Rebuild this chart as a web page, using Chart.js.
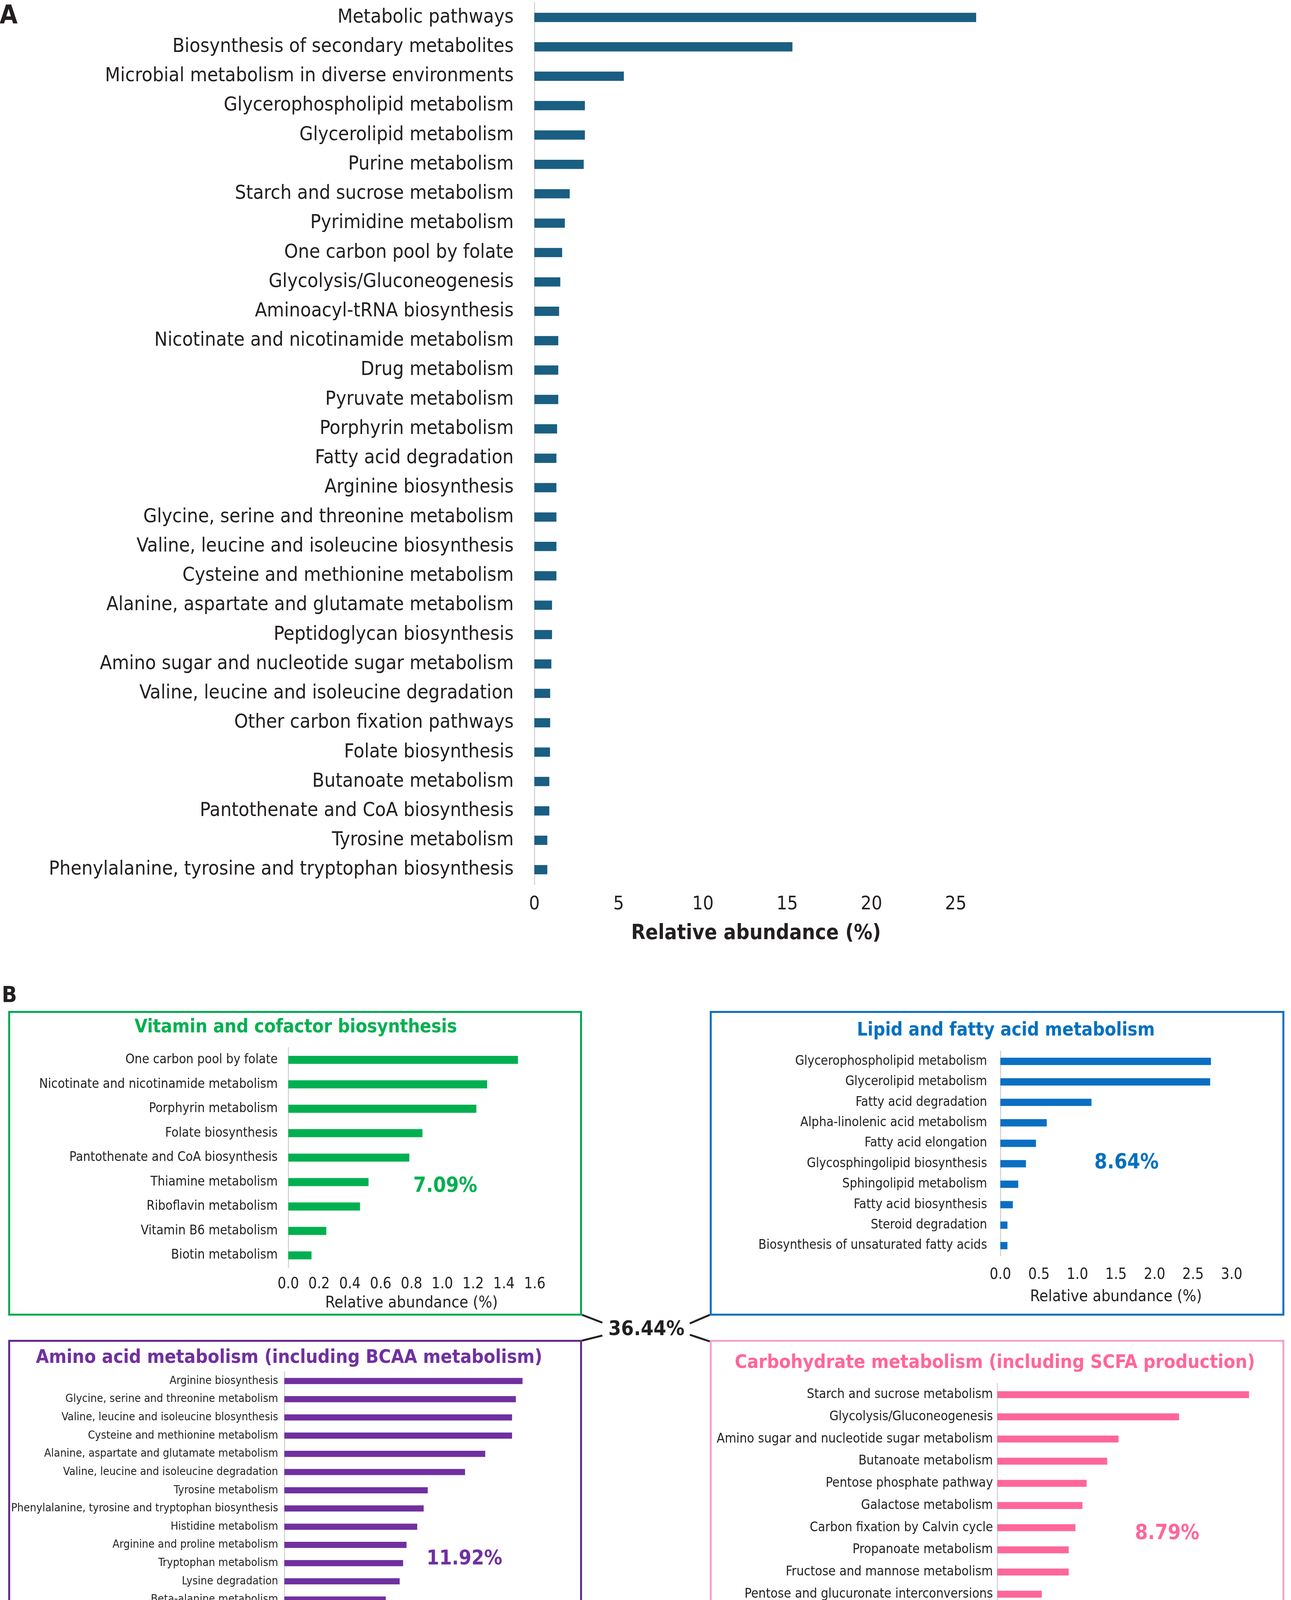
<!DOCTYPE html>
<html>
<head>
<meta charset="utf-8">
<title>KEGG pathway relative abundance</title>
<script src="https://cdn.jsdelivr.net/npm/chart.js@4.4.0/dist/chart.umd.min.js"></script>
<style>
  html, body { margin: 0; padding: 0; background: #fff; overflow: hidden; }
  #page { position: relative; width: 3305px; height: 4409px; background: #fff; }
  canvas { position: absolute; }
  .box { position: absolute; box-sizing: border-box; border-style: solid; border-width: 5px; }
  .txt { position: absolute; white-space: nowrap; line-height: 1; transform: translate(-50%, -50%); }
  svg { position: absolute; left: 0; top: 0; }
</style>
</head>
<body>
<div id="page">
  <div class="box" id="boxVit"></div>
  <div class="box" id="boxLip"></div>
  <div class="box" id="boxAmi"></div>
  <div class="box" id="boxCar"></div>
  <svg width="3305" height="4409">
    <g stroke="#231f20" stroke-width="5">
      <line x1="1490" y1="3366" x2="1542" y2="3386" />
      <line x1="1817" y1="3366" x2="1766" y2="3388" />
      <line x1="1490" y1="3432" x2="1542" y2="3419" />
      <line x1="1817" y1="3434" x2="1766" y2="3417" />
    </g>
  </svg>
  <canvas id="chartA"></canvas>
  <canvas id="chartVit"></canvas>
  <canvas id="chartLip"></canvas>
  <canvas id="chartAmi"></canvas>
  <canvas id="chartCar"></canvas>
</div>
<script>
// ---- datos ----
const pathwaysA = [
  "Metabolic pathways", "Biosynthesis of secondary metabolites",
  "Microbial metabolism in diverse environments", "Glycerophospholipid metabolism",
  "Glycerolipid metabolism", "Purine metabolism", "Starch and sucrose metabolism",
  "Pyrimidine metabolism", "One carbon pool by folate", "Glycolysis/Gluconeogenesis",
  "Aminoacyl-tRNA biosynthesis", "Nicotinate and nicotinamide metabolism",
  "Drug metabolism", "Pyruvate metabolism", "Porphyrin metabolism",
  "Fatty acid degradation", "Arginine biosynthesis",
  "Glycine, serine and threonine metabolism", "Valine, leucine and isoleucine biosynthesis",
  "Cysteine and methionine metabolism", "Alanine, aspartate and glutamate metabolism",
  "Peptidoglycan biosynthesis", "Amino sugar and nucleotide sugar metabolism",
  "Valine, leucine and isoleucine degradation", "Other carbon fixation pathways",
  "Folate biosynthesis", "Butanoate metabolism", "Pantothenate and CoA biosynthesis",
  "Tyrosine metabolism", "Phenylalanine, tyrosine and tryptophan biosynthesis"
];
const abundanceA = [
  26.2, 15.3, 5.3, 2.99, 2.99, 2.92, 2.09, 1.8, 1.64, 1.53,
  1.46, 1.41, 1.41, 1.41, 1.34, 1.3, 1.3, 1.3, 1.3, 1.3,
  1.04, 1.04, 1.0, 0.93, 0.93, 0.92, 0.88, 0.88, 0.76, 0.76
];
const ticksA = [0, 5, 10, 15, 20, 25];

const vitaminLabels = [
  "One carbon pool by folate", "Nicotinate and nicotinamide metabolism",
  "Porphyrin metabolism", "Folate biosynthesis", "Pantothenate and CoA biosynthesis",
  "Thiamine metabolism", "Riboflavin metabolism", "Vitamin B6 metabolism", "Biotin metabolism"
];
const vitaminValues = [1.49, 1.29, 1.22, 0.87, 0.785, 0.52, 0.465, 0.246, 0.15];
const vitaminTicks = [0, 0.2, 0.4, 0.6, 0.8, 1.0, 1.2, 1.4, 1.6];

const lipidLabels = [
  "Glycerophospholipid metabolism", "Glycerolipid metabolism", "Fatty acid degradation",
  "Alpha-linolenic acid metabolism", "Fatty acid elongation", "Glycosphingolipid biosynthesis",
  "Sphingolipid metabolism", "Fatty acid biosynthesis", "Steroid degradation",
  "Biosynthesis of unsaturated fatty acids"
];
const lipidValues = [2.73, 2.72, 1.18, 0.6, 0.46, 0.33, 0.23, 0.16, 0.09, 0.09];
const lipidTicks = [0, 0.5, 1.0, 1.5, 2.0, 2.5, 3.0];

const aminoLabels = [
  "Arginine biosynthesis", "Glycine, serine and threonine metabolism",
  "Valine, leucine and isoleucine blosynthesis", "Cysteine and methionine metabolism",
  "Alanine, aspartate and glutamate metabolism", "Valine, leucine and isoleucine degradation",
  "Tyrosine metabolism", "Phenylalanine, tyrosine and tryptophan biosynthesis",
  "Histidine metabolism", "Arginine and proline metabolism", "Tryptophan metabolism",
  "Lysine degradation", "Beta-alanine metabolism", "Lysine biosynthesis",
  "D-amino acid metabolism", "Phenylalanine metabolism"
];
const aminoValues = [1.18, 1.147, 1.128, 1.128, 0.995, 0.895, 0.71, 0.69, 0.658, 0.605,
  0.588, 0.571, 0.502, 0.47, 0.402, 0.25];
const aminoTicks = [0, 0.2, 0.4, 0.6, 0.8, 1.0, 1.2, 1.4];

const carbLabels = [
  "Starch and sucrose metabolism", "Glycolysis/Gluconeogenesis",
  "Amino sugar and nucleotide sugar metabolism", "Butanoate metabolism",
  "Pentose phosphate pathway", "Galactose metabolism", "Carbon fixation by Calvin cycle",
  "Propanoate metabolism", "Fructose and mannose metabolism",
  "Pentose and glucuronate interconversions", "Glyoxylate and dicarboxylate metabolism",
  "Citrate cycle (TCA cycle)"
];
const carbValues = [1.87, 1.35, 0.9, 0.816, 0.663, 0.632, 0.58, 0.53, 0.53, 0.33, 0.265, 0.215];
const carbTicks = [0, 0.2, 0.4, 0.6, 0.8, 1.0, 1.2, 1.4, 1.6, 1.8, 2.0];

// ---- estilo ----
const FONT = "'DejaVu Sans Condensed', 'DejaVu Sans', sans-serif";
const TEXT = "#231f20";
const AXIS_TITLE = "Relative abundance (%)";

// tamaño de letra para que un texto ocupe un ancho dado
const mctx = document.createElement("canvas").getContext("2d");
function fitSize(text, width, weight) {
  mctx.font = (weight || "normal") + " 100px " + FONT;
  return Math.round(1000 * width / mctx.measureText(text).width) / 10;
}

function addText(text, cx, cy, width, color, weight) {
  const d = document.createElement("div");
  d.className = "txt";
  d.textContent = text;
  d.style.left = cx + "px";
  d.style.top = cy + "px";
  d.style.color = color;
  d.style.fontFamily = FONT;
  d.style.fontWeight = weight || "normal";
  d.style.fontSize = fitSize(text, width, weight) + "px";
  document.getElementById("page").appendChild(d);
}

function setBox(id, left, top, right, bottom, color) {
  const b = document.getElementById(id);
  b.style.left = left + "px";
  b.style.top = top + "px";
  b.style.width = (right - left) + "px";
  b.style.height = (bottom - top) + "px";
  b.style.borderColor = color;
}

// grafica de barras horizontales con el eje en posiciones fijas
function drawBars(id, g, labels, values, ticks, st) {
  const cv = document.getElementById(id);
  cv.width = g.width;
  cv.height = g.height;
  cv.style.left = g.left + "px";
  cv.style.top = g.top + "px";
  const yAxisW = g.axisX - g.left;
  const xAxisH = g.top + g.height - g.areaBottom;
  const labelSize = fitSize(st.refLabel, st.refLabelW);
  const tickSize = fitSize(st.refTick, st.refTickW);
  const titleSize = fitSize(AXIS_TITLE, st.titleW, st.titleWeight);

  return new Chart(cv.getContext("2d"), {
    type: "bar",
    data: {
      labels: labels,
      datasets: [{ data: values, backgroundColor: st.color, barThickness: st.bar, borderWidth: 0 }]
    },
    options: {
      indexAxis: "y",
      responsive: false,
      animation: false,
      devicePixelRatio: 1,
      layout: { padding: { top: g.areaTop - g.top, right: g.left + g.width - g.areaRight, bottom: 0, left: 0 } },
      plugins: { legend: { display: false }, tooltip: { enabled: false } },
      scales: {
        y: {
          grid: { display: false, drawTicks: false },
          border: { display: true, color: "#d6d6d6", width: 3 },
          ticks: {
            color: TEXT, autoSkip: false,
            font: { family: FONT, size: labelSize },
            padding: g.axisX - g.labelRight
          },
          // el ancho fijo coloca el eje donde esta en la figura
          afterFit: s => { s.width = yAxisW; s.paddingTop = 0; s.paddingBottom = 0; }
        },
        x: {
          min: 0,
          max: st.max,
          grid: { display: false, drawTicks: false },
          border: { display: false },
          afterBuildTicks: s => { s.ticks = ticks.map(v => ({ value: v })); },
          ticks: {
            color: TEXT, autoSkip: false, maxRotation: 0, minRotation: 0,
            font: { family: FONT, size: tickSize },
            padding: g.tickY - g.areaBottom - 0.6 * tickSize,
            callback: v => st.fmt(v)
          },
          title: {
            display: true, text: AXIS_TITLE, color: TEXT,
            font: { family: FONT, size: titleSize, weight: st.titleWeight },
            padding: { top: 0, bottom: g.top + g.height - g.titleY - 0.6 * titleSize }
          },
          afterFit: s => { s.height = xAxisH; s.paddingLeft = 0; s.paddingRight = 0; }
        }
      }
    }
  });
}

const one = v => v.toFixed(1);

// Panel A
addText("A", 22, 38, 46, TEXT, "bold");
drawBars("chartA",
  { left: 0, top: 0, width: 2600, height: 2440, axisX: 1368, labelRight: 1315,
    areaTop: 7, areaBottom: 2264, areaRight: 2503, tickY: 2315, titleY: 2390 },
  pathwaysA, abundanceA, ticksA,
  { color: "#1a5e82", bar: 23, max: 26.3, fmt: v => String(v),
    refLabel: pathwaysA[29], refLabelW: 1190, refTick: "10", refTickW: 55,
    titleW: 640, titleWeight: "bold" });

// Panel B
addText("B", 24, 2546, 39, TEXT, "bold");
setBox("boxVit", 21, 2588, 1490, 3368, "#00a94f");
setBox("boxLip", 1817, 2588, 3288, 3368, "#0a6fc2");
setBox("boxAmi", 21, 3430, 1490, 4395, "#62288f");
setBox("boxCar", 1817, 3430, 3288, 4395, "#f5a3cf");

addText("Vitamin and cofactor biosynthesis", 757, 2627, 825, "#00b050", "bold");
addText("Lipid and fatty acid metabolism", 2575, 2635, 763, "#0070c0", "bold");
addText("Amino acid metabolism (including BCAA metabolism)", 740, 3472, 1298, "#7030a0", "bold");
addText("Carbohydrate metabolism (including SCFA production)", 2547, 3485, 1331, "#ff6699", "bold");

addText("7.09%", 1140, 3033, 164, "#00b050", "bold");
addText("8.64%", 2884, 2973, 165, "#0070c0", "bold");
addText("11.92%", 1189, 3988, 194, "#7030a0", "bold");
addText("8.79%", 2988, 3922, 165, "#ff6699", "bold");
addText("36.44%", 1655, 3400, 195, TEXT, "bold");

drawBars("chartVit",
  { left: 30, top: 2660, width: 1440, height: 720, axisX: 738, labelRight: 711,
    areaTop: 2682, areaBottom: 3245, areaRight: 1369, tickY: 3288, titleY: 3336 },
  vitaminLabels, vitaminValues, vitaminTicks,
  { color: "#00b050", bar: 20, max: 1.6, fmt: one,
    refLabel: vitaminLabels[1], refLabelW: 610, refTick: "0.0", refTickW: 55, titleW: 442 });

drawBars("chartLip",
  { left: 1830, top: 2660, width: 1455, height: 720, axisX: 2561, labelRight: 2527,
    areaTop: 2691, areaBottom: 3215, areaRight: 3153, tickY: 3264, titleY: 3320 },
  lipidLabels, lipidValues, lipidTicks,
  { color: "#0a6fc2", bar: 18, max: 3.0, fmt: one,
    refLabel: lipidLabels[9], refLabelW: 586, refTick: "0.0", refTickW: 55, titleW: 440 });

drawBars("chartAmi",
  { left: 30, top: 3490, width: 1470, height: 910, axisX: 728, labelRight: 712,
    areaTop: 3512, areaBottom: 4258, areaRight: 1451, tickY: 4303, titleY: 4356 },
  aminoLabels, aminoValues, aminoTicks,
  { color: "#7030a0", bar: 15, max: 1.4, fmt: one,
    refLabel: aminoLabels[7], refLabelW: 683, refTick: "0.0", refTickW: 54, titleW: 442 });

drawBars("chartCar",
  { left: 1830, top: 3520, width: 1470, height: 880, axisX: 2553, labelRight: 2542,
    areaTop: 3542, areaBottom: 4223, areaRight: 3242, tickY: 4276, titleY: 4333 },
  carbLabels, carbValues, carbTicks,
  { color: "#ff6699", bar: 17, max: 2.0, fmt: one,
    refLabel: carbLabels[2], refLabelW: 708, refTick: "0.0", refTickW: 56, titleW: 441 });
</script>
</body>
</html>
